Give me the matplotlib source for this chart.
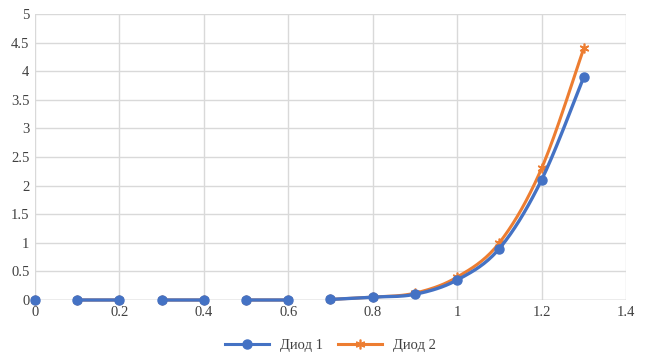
import numpy as np
import matplotlib.pyplot as plt

plt.rcParams['font.family'] = ['Liberation Serif', 'DejaVu Serif']

# nan marks the blank rows that break the line
x = [0, np.nan, 0.1, 0.2, np.nan, 0.3, 0.4, np.nan, 0.5, 0.6, np.nan,
     0.7, 0.8, 0.9, 1.0, 1.1, 1.2, 1.3]
diod1 = [0, np.nan, 0, 0, np.nan, 0, 0, np.nan, 0, 0, np.nan,
         0.01, 0.05, 0.1, 0.35, 0.9, 2.1, 3.9]
diod2 = [0, np.nan, 0, 0, np.nan, 0, 0, np.nan, 0, 0, np.nan,
         0.01, 0.05, 0.12, 0.4, 1.0, 2.3, 4.4]


def smooth(xs, ys, n=20):
    # catmull-rom curve through the points, like excel's smoothed line
    px, py = [], []
    seg = []
    for a, b in list(zip(xs, ys)) + [(np.nan, np.nan)]:
        if np.isnan(a):
            if seg:
                pts = np.array(seg)
                if len(pts) == 1:
                    px += [pts[0, 0]]
                    py += [pts[0, 1]]
                else:
                    p = np.vstack([pts[0], pts, pts[-1]])
                    for i in range(1, len(p) - 2):
                        t = np.linspace(0, 1, n)[:, None]
                        p0, p1, p2, p3 = p[i - 1], p[i], p[i + 1], p[i + 2]
                        c = 0.5 * (2 * p1 + (-p0 + p2) * t
                                   + (2 * p0 - 5 * p1 + 4 * p2 - p3) * t ** 2
                                   + (-p0 + 3 * p1 - 3 * p2 + p3) * t ** 3)
                        px += list(c[:, 0])
                        py += list(c[:, 1])
                px.append(np.nan)
                py.append(np.nan)
            seg = []
        else:
            seg.append((a, b))
    return px, py


fig = plt.figure(figsize=(6.46, 3.56), dpi=100)
ax = fig.add_axes([35 / 646, 56 / 356, 591 / 646, 286 / 356])

blue = '#4472C4'
orange = '#ED7D31'

sx, sy = smooth(x, diod2)
ax.plot(sx, sy, color=orange, lw=2.2, zorder=3, clip_on=False)
ax.plot(x, diod2, ls='none', marker=(6, 2, 0), ms=7, mec=orange, mew=1.2, zorder=3, clip_on=False)
sx, sy = smooth(x, diod1)
ax.plot(sx, sy, color=blue, lw=2.4, zorder=4, clip_on=False)
ax.plot(x, diod1, ls='none', marker='o', ms=6.5, color=blue, zorder=4, clip_on=False)

ax.plot([], [], color=blue, lw=2.2, marker='o', ms=6.5, label='Диод 1')
ax.plot([], [], color=orange, lw=2.2, marker=(6, 2, 0), ms=7, mew=1.2, label='Диод 2')

ax.set_xlim(0, 1.4)
ax.set_ylim(0, 5)
ax.set_xticks(np.arange(0, 1.41, 0.2))
ax.set_xticklabels(['0', '0.2', '0.4', '0.6', '0.8', '1', '1.2', '1.4'])
ax.set_yticks(np.arange(0, 5.01, 0.5))
ax.set_yticklabels(['0', '0.5', '1', '1.5', '2', '2.5', '3', '3.5', '4', '4.5', '5'])
ax.grid(color='#D9D9D9', lw=1)
ax.set_axisbelow(True)
for s in ax.spines.values():
    s.set_visible(False)
ax.axhline(0, color='#BFBFBF', lw=1, zorder=1)
ax.tick_params(length=0, labelsize=10.5, colors='#404040', pad=4)

ax.legend(loc='upper center', bbox_to_anchor=(0.5, -0.09), ncol=2, frameon=False,
          fontsize=10.5, handlelength=3, columnspacing=1)
for t in ax.get_legend().get_texts():
    t.set_color('#404040')

fig.savefig('out.png', dpi=100)
